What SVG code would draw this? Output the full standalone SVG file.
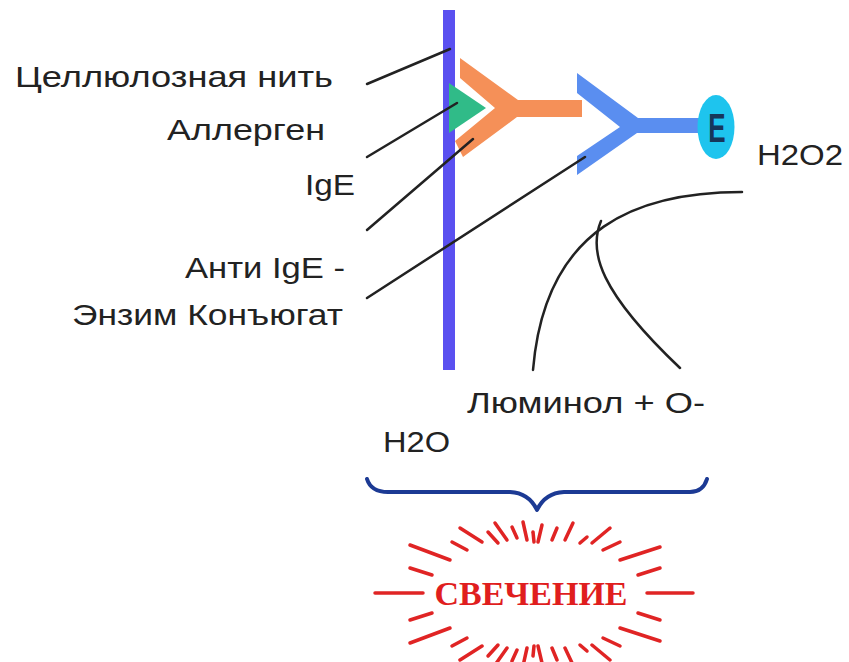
<svg xmlns="http://www.w3.org/2000/svg" width="849" height="662" viewBox="0 0 849 662">
  <style>
    .lbl { font-family: "Liberation Sans", Arial, sans-serif; font-size: 30px; fill: #222; }
    .lead { stroke: #222; stroke-width: 2.5; fill: none; stroke-linecap: round; }
    .ray { stroke: #e02424; stroke-width: 3.5; stroke-linecap: round; }
  </style>
  <rect width="849" height="662" fill="#fff"/>

  <!-- cellulose thread -->
  <g id="thread">
    <rect x="443" y="10" width="12" height="360" fill="#5a50f0"/>
  </g>

  <!-- allergen -->
  <g id="allergen">
    <polygon points="449,83 486,108 449,133" fill="#30bb88"/>
  </g>

  <!-- IgE antibody -->
  <g id="ige">
    <polygon points="460,58 518,100 582,100 582,117 517,117 463,157 455,141 495,108 460,78" fill="#f59058"/>
  </g>

  <!-- anti-IgE enzyme conjugate -->
  <g id="conjugate">
    <polygon points="577,73 638,118 704,118 704,133 637,133 577,175 577,156 620,127 577,93" fill="#5a8ef0"/>
    <ellipse cx="716" cy="127" rx="18.5" ry="32" fill="#1ec4ee"/>
    <text x="0" y="0" transform="translate(717,142) scale(0.65,1)" text-anchor="middle" font-family="Liberation Sans, Arial, sans-serif" font-weight="bold" font-size="40" fill="#16365a">E</text>
  </g>

  <!-- labels -->
  <g id="labels">
    <text class="lbl" x="15" y="87" textLength="318" lengthAdjust="spacingAndGlyphs">Целлюлозная нить</text>
    <text class="lbl" x="167" y="140" textLength="158" lengthAdjust="spacingAndGlyphs">Аллерген</text>
    <text class="lbl" x="305" y="195" textLength="50" lengthAdjust="spacingAndGlyphs">IgE</text>
    <text class="lbl" x="185" y="278" textLength="160" lengthAdjust="spacingAndGlyphs">Анти IgE -</text>
    <text class="lbl" x="72" y="325" textLength="271" lengthAdjust="spacingAndGlyphs">Энзим Конъюгат</text>
    <text class="lbl" x="757" y="165" textLength="86" lengthAdjust="spacingAndGlyphs">H2O2</text>
    <text class="lbl" x="467" y="413" textLength="238" lengthAdjust="spacingAndGlyphs">Люминол + О-</text>
    <text class="lbl" x="383" y="452" textLength="67" lengthAdjust="spacingAndGlyphs">H2O</text>
  </g>

  <!-- connectors -->
  <g id="connectors">
    <line class="lead" x1="367" y1="84" x2="450" y2="49"/>
    <line class="lead" x1="367" y1="157" x2="457" y2="103"/>
    <line class="lead" x1="367" y1="230" x2="473" y2="139"/>
    <line class="lead" x1="367" y1="298" x2="585" y2="157"/>
    <path class="lead" d="M742,192 C640,192 545,225 533,370"/>
    <path class="lead" d="M601,221 C588,252 600,292 680,368"/>
  </g>

  <!-- brace -->
  <g id="brace">
    <path d="M367,479 Q371,492 388,492 L510,492 Q529,493 537,510 Q545,493 564,492 L690,492 Q703,492 707,479" fill="none" stroke="#1c3a94" stroke-width="4" stroke-linejoin="round" stroke-linecap="round"/>
  </g>

  <!-- glow burst -->
  <g id="glow">
    <line class="ray" x1="375" y1="593" x2="423" y2="593"/>
    <line class="ray" x1="647" y1="593" x2="693" y2="593"/>
    <line class="ray" x1="410" y1="545" x2="450" y2="560"/>
    <line class="ray" x1="410" y1="568" x2="432" y2="575"/>
    <line class="ray" x1="452" y1="542" x2="467" y2="550"/>
    <line class="ray" x1="460" y1="528" x2="482" y2="542"/>
    <line class="ray" x1="488" y1="532" x2="498" y2="543"/>
    <line class="ray" x1="495" y1="523" x2="507" y2="540"/>
    <line class="ray" x1="512" y1="527" x2="517" y2="538"/>
    <line class="ray" x1="523" y1="522" x2="527" y2="540"/>
    <line class="ray" x1="533" y1="532" x2="534" y2="542"/>
    <line class="ray" x1="542" y1="525" x2="538" y2="542"/>
    <line class="ray" x1="557" y1="528" x2="552" y2="540"/>
    <line class="ray" x1="573" y1="523" x2="565" y2="540"/>
    <line class="ray" x1="587" y1="537" x2="580" y2="543"/>
    <line class="ray" x1="610" y1="528" x2="592" y2="543"/>
    <line class="ray" x1="620" y1="542" x2="603" y2="550"/>
    <line class="ray" x1="660" y1="547" x2="620" y2="560"/>
    <line class="ray" x1="660" y1="568" x2="638" y2="575"/>
    <line class="ray" x1="410" y1="643" x2="450" y2="628"/>
    <line class="ray" x1="410" y1="620" x2="432" y2="613"/>
    <line class="ray" x1="452" y1="646" x2="467" y2="638"/>
    <line class="ray" x1="460" y1="660" x2="482" y2="646"/>
    <line class="ray" x1="488" y1="656" x2="498" y2="645"/>
    <line class="ray" x1="495" y1="665" x2="507" y2="648"/>
    <line class="ray" x1="512" y1="661" x2="517" y2="650"/>
    <line class="ray" x1="523" y1="666" x2="527" y2="648"/>
    <line class="ray" x1="533" y1="656" x2="534" y2="646"/>
    <line class="ray" x1="542" y1="663" x2="538" y2="646"/>
    <line class="ray" x1="557" y1="660" x2="552" y2="648"/>
    <line class="ray" x1="573" y1="665" x2="565" y2="648"/>
    <line class="ray" x1="587" y1="651" x2="580" y2="645"/>
    <line class="ray" x1="610" y1="660" x2="592" y2="645"/>
    <line class="ray" x1="620" y1="646" x2="603" y2="638"/>
    <line class="ray" x1="660" y1="641" x2="620" y2="628"/>
    <line class="ray" x1="660" y1="620" x2="638" y2="613"/>
    <text x="531" y="605" text-anchor="middle" font-family="Liberation Serif, Times New Roman, serif" font-weight="bold" font-size="34" fill="#e01e1e">СВЕЧЕНИЕ</text>
  </g>
</svg>
